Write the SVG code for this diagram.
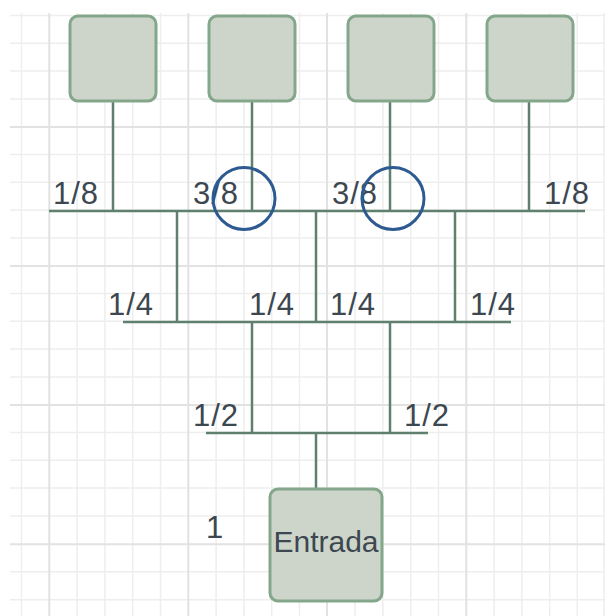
<svg xmlns="http://www.w3.org/2000/svg" width="605" height="616" viewBox="0 0 605 616">
  <style>
    .minor { stroke: #eeeeee; stroke-width: 1.5; fill: none; }
    .major { stroke: #e2e2e2; stroke-width: 2; fill: none; }
    .box { fill: #cdd5ca; stroke: #84a78b; stroke-width: 3; }
    .wire { stroke: #5f7f6f; stroke-width: 2.5; fill: none; stroke-linecap: butt; }
    .mark { stroke: #2e5a92; stroke-width: 3; fill: none; }
    .lbl { font-family: "Liberation Sans", Arial, sans-serif; font-size: 30px; fill: #3c4750; }
    .frac { font-size: 31px; letter-spacing: 1px; }
  </style>

  <rect width="605" height="616" fill="#ffffff"/>

  <!-- background grid -->
  <g id="grid">
    <path class="minor" d="M21.5 13V616 M77.1 13V616 M104.9 13V616 M132.7 13V616 M160.5 13V616 M216.1 13V616 M243.9 13V616 M271.7 13V616 M299.5 13V616 M355.1 13V616 M382.9 13V616 M410.7 13V616 M438.5 13V616 M494.1 13V616 M521.9 13V616 M549.7 13V616 M577.3 13V616 M604 13V616
      M10 15.5H605 M10 43.3H605 M10 71.1H605 M10 98.9H605 M10 154.5H605 M10 182.3H605 M10 210.1H605 M10 237.9H605 M10 293.5H605 M10 321.3H605 M10 349.1H605 M10 376.9H605 M10 432.5H605 M10 460.3H605 M10 488.1H605 M10 515.9H605 M10 571.7H605 M10 599.7H605"/>
    <path class="major" d="M49.3 13V616 M188.3 13V616 M327 13V616 M466.3 13V616 M10 126.9H605 M10 265.9H605 M10 404.9H605 M10 544.3H605"/>
  </g>

  <!-- connectors -->
  <g id="connectors">
    <path class="wire" d="M113 101V211 M252 101V211 M390 101V211 M529 101V211"/>
    <path class="wire" d="M49 211H585"/>
    <path class="wire" d="M177 211V322 M316 211V322 M455 211V322"/>
    <path class="wire" d="M123 322H511"/>
    <path class="wire" d="M252 322V433 M390 322V433"/>
    <path class="wire" d="M206 433H428"/>
    <path class="wire" d="M316 433V489"/>
  </g>

  <!-- outlet boxes -->
  <g id="out1"><rect class="box" x="70" y="16" width="86" height="85" rx="8"/></g>
  <g id="out2"><rect class="box" x="209" y="16" width="86" height="85" rx="8"/></g>
  <g id="out3"><rect class="box" x="348" y="16" width="86" height="85" rx="8"/></g>
  <g id="out4"><rect class="box" x="487" y="16" width="86" height="85" rx="8"/></g>

  <!-- input box -->
  <g id="entrada">
    <rect class="box" x="270" y="489" width="112" height="112" rx="8"/>
    <text class="lbl" x="326" y="552" text-anchor="middle">Entrada</text>
  </g>

  <!-- branch fractions -->
  <g id="labels">
    <text class="lbl frac" x="53" y="204">1/8</text>
    <text class="lbl frac" x="193" y="204">3/8</text>
    <text class="lbl frac" x="332" y="204">3/8</text>
    <text class="lbl frac" x="544" y="204">1/8</text>
    <text class="lbl frac" x="108" y="315">1/4</text>
    <text class="lbl frac" x="249" y="315">1/4</text>
    <text class="lbl frac" x="330" y="315">1/4</text>
    <text class="lbl frac" x="470" y="315">1/4</text>
    <text class="lbl frac" x="193" y="426">1/2</text>
    <text class="lbl frac" x="404" y="426">1/2</text>
    <text class="lbl frac" x="206" y="538">1</text>
  </g>

  <!-- highlighted junctions -->
  <g id="marks">
    <circle class="mark" cx="244" cy="198.5" r="31"/>
    <circle class="mark" cx="393" cy="198.5" r="31"/>
  </g>
</svg>
